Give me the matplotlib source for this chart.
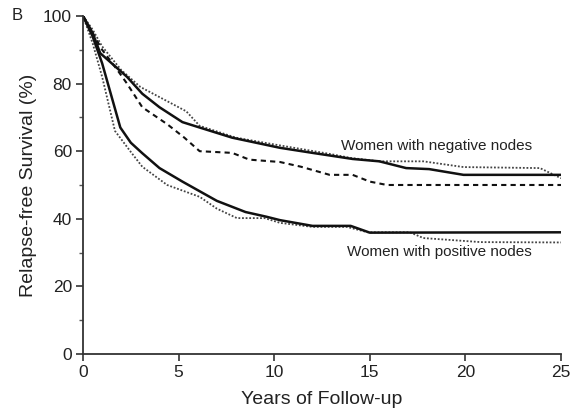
import matplotlib.pyplot as plt
from matplotlib.ticker import MultipleLocator

# curve data (years, % relapse-free)
neg_solid_x = [0, 0.5, 0.9, 2.3, 3.1, 4.0, 5.2, 6.1, 7.8, 10.3, 12.0, 14.1, 15.5, 16.9, 18.1, 19.9, 25]
neg_solid_y = [100, 95, 89, 82, 77, 73, 68.6, 67, 64, 61, 59.5, 57.7, 57, 55, 54.7, 53, 53]

neg_dot_x = [0, 0.5, 1.0, 2.0, 3.0, 4.0, 5.0, 5.4, 6.1, 8.0, 10.0, 12.9, 14.0, 15.5, 17.8, 19.9, 23.9, 25]
neg_dot_y = [100, 96, 91, 84, 79, 76, 73, 71.8, 67.5, 64, 62, 59.2, 58, 57, 57, 55.3, 55, 52]

neg_dash_x = [0, 0.5, 1.0, 1.8, 2.3, 3.1, 4.4, 5.3, 6.1, 7.8, 8.7, 10.3, 11.4, 12.9, 14.1, 15.0, 15.9, 25]
neg_dash_y = [100, 95, 90, 84, 80, 73, 68, 64, 60, 59.5, 57.5, 56.8, 55.4, 53, 53, 51, 50, 50]

pos_solid_x = [0, 0.5, 1.0, 1.5, 1.95, 2.5, 3.1, 4.0, 5.2, 7.0, 8.5, 9.6, 10.3, 12.0, 14.0, 15.0, 25]
pos_solid_y = [100, 94, 86, 76, 67, 62.5, 59.4, 55, 51, 45.3, 42, 40.6, 39.6, 37.9, 37.9, 35.9, 36]

pos_dot_x = [0, 0.5, 1.0, 1.67, 2.55, 3.1, 4.4, 6.1, 7.0, 8.05, 9.5, 10.3, 12.0, 13.8, 14.9, 17.1, 17.8, 20.8, 25]
pos_dot_y = [100, 92, 82, 66, 59.4, 55.4, 50, 46.5, 43, 40.2, 40.2, 38.8, 37.6, 37.6, 36, 36, 34.3, 33.1, 33]

plt.rcParams['font.family'] = ['Liberation Sans', 'DejaVu Sans']

fig = plt.figure(figsize=(5.71, 4.08), dpi=100)
ax = fig.add_axes([0.1454, 0.1324, 0.8371, 0.8284])

ax.plot(neg_dot_x, neg_dot_y, color='#444444', linestyle=(0, (1, 1)), linewidth=1.3)
ax.plot(pos_dot_x, pos_dot_y, color='#444444', linestyle=(0, (1, 1)), linewidth=1.3)
ax.plot(neg_dash_x, neg_dash_y, color='#111111', linestyle=(0, (2.5, 2)), linewidth=1.5)
ax.plot(neg_solid_x, neg_solid_y, color='#111111', linewidth=1.8)
ax.plot(pos_solid_x, pos_solid_y, color='#111111', linewidth=1.8)

ax.text(13.5, 61.5, 'Women with negative nodes', fontsize=11, va='center', color='#222222')
ax.text(13.8, 30.2, 'Women with positive nodes', fontsize=11, va='center', color='#222222')

ax.set_xlim(0, 25)
ax.set_ylim(0, 100)
ax.set_xticks([0, 5, 10, 15, 20, 25])
ax.set_yticks([0, 20, 40, 60, 80, 100])
ax.yaxis.set_minor_locator(MultipleLocator(10))
for s in ['top', 'right']:
    ax.spines[s].set_visible(False)
for s in ['left', 'bottom']:
    ax.spines[s].set_color('#333333')
    ax.spines[s].set_linewidth(1.3)
ax.tick_params(which='major', length=5, width=1.2, color='#333333', labelsize=12.5,
               labelcolor='#222222', pad=3)
ax.tick_params(which='minor', length=3, width=1.0, color='#555555')

ax.set_xlabel('Years of Follow-up', fontsize=14, color='#222222', labelpad=8)
ax.set_ylabel('Relapse-free Survival (%)', fontsize=14, color='#222222', labelpad=4)

fig.text(12 / 571, 1 - 16 / 408, 'B', fontsize=12, va='center', ha='left', color='#222222')

fig.savefig('out.png', dpi=100)
